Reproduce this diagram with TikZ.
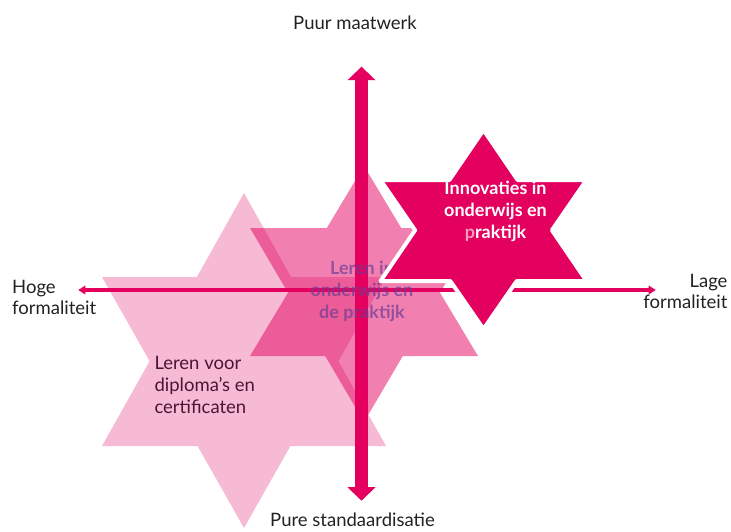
\documentclass[tikz,border=0pt]{standalone}
\usepackage{fontspec}
\setmainfont{Lato}
\usetikzlibrary{arrows.meta}
\definecolor{mag}{HTML}{E3005F}
\definecolor{ink}{HTML}{222222}
\definecolor{plum}{HTML}{4B1535}
\definecolor{violet}{RGB}{110,60,150}
\begin{document}
\begin{tikzpicture}[x=1pt,y=-1pt,
  lbl/.style={inner sep=0pt, text=ink, font=\fontsize{18.5}{20.7}\selectfont},
  startext/.style={inner sep=0pt, font=\fontsize{18.5}{21.7}\selectfont},
  boldtext/.style={inner sep=0pt, font=\fontsize{18}{21.7}\selectfont\bfseries},
  vaxis/.style={draw=mag, line width=13pt,
    {Triangle[length=13.5pt,width=28pt,line width=0pt]}-{Triangle[length=13.5pt,width=28pt,line width=0pt]}},
  haxis/.style={draw=mag, line width=4.5pt,
    {Triangle[length=7pt,width=9pt,line width=0pt]}-{Triangle[length=7pt,width=9pt,line width=0pt]}}]
\useasboundingbox (0,0) rectangle (731,531);

% large light star
\fill[mag!27] (244,193) -- (291.1,277) -- (386,277) -- (338.4,361.2) -- (386,446)
  -- (290.4,446) -- (244,528) -- (197.6,446) -- (102,446) -- (149.6,361.2)
  -- (102,277) -- (196.9,277) -- cycle;

% translucent middle star
\fill[mag, fill opacity=0.5] (364,166) -- (401.2,228) -- (478,228) -- (440,292.7)
  -- (478,356) -- (402.8,356) -- (364,422) -- (325.2,356) -- (250,356)
  -- (288,292.7) -- (250,228) -- (326.8,228) -- cycle;

% axes
\coordinate (top) at (361.5,66.7);
\coordinate (bot) at (361.5,500.7);
\coordinate (lft) at (78.3,290);
\coordinate (rgt) at (655.7,290);
\draw[haxis] (lft) -- (rgt);
\draw[vaxis] (top) -- (bot);

% middle star text (anchored at the baseline of its last line)
\node[boldtext, text=violet, text opacity=0.7, align=center, anchor=base]
  (mid) at (362,318.3) {Leren in\\onderwijs en\\de praktijk};

% small dark star
\filldraw[fill=mag, draw=white, line width=4pt, line join=round]
  (483.5,130) -- (517.6,180) -- (586.5,180) -- (551.9,230.2) -- (586.5,281)
  -- (516.7,281) -- (483.5,329) -- (450.3,281) -- (380.5,281) -- (415.1,230.2)
  -- (380.5,180) -- (449.4,180) -- cycle;

% star texts
\node[boldtext, text=white, align=center, anchor=base]
  (inno) at (495.5,238.3) {Innovaties in\\onderwijs en\\\textcolor{mag!40}{p}raktijk};
\node[startext, text=plum, align=left, anchor=base west]
  (dipl) at (154.3,413.3) {Leren voor\\diploma’s en\\certificaten};

% axis labels
\node[lbl, anchor=base] (pm) at (355,29.3) {Puur maatwerk};
\node[lbl, anchor=base] (ps) at (352.5,526.7) {Pure standaardisatie};
\node[lbl, align=left, anchor=base west] (hf) at (12,314) {Hoge\\formaliteit};
\node[lbl, align=right, anchor=base east] (lf) at (727.7,308) {Lage\\formaliteit};
\end{tikzpicture}
\end{document}
